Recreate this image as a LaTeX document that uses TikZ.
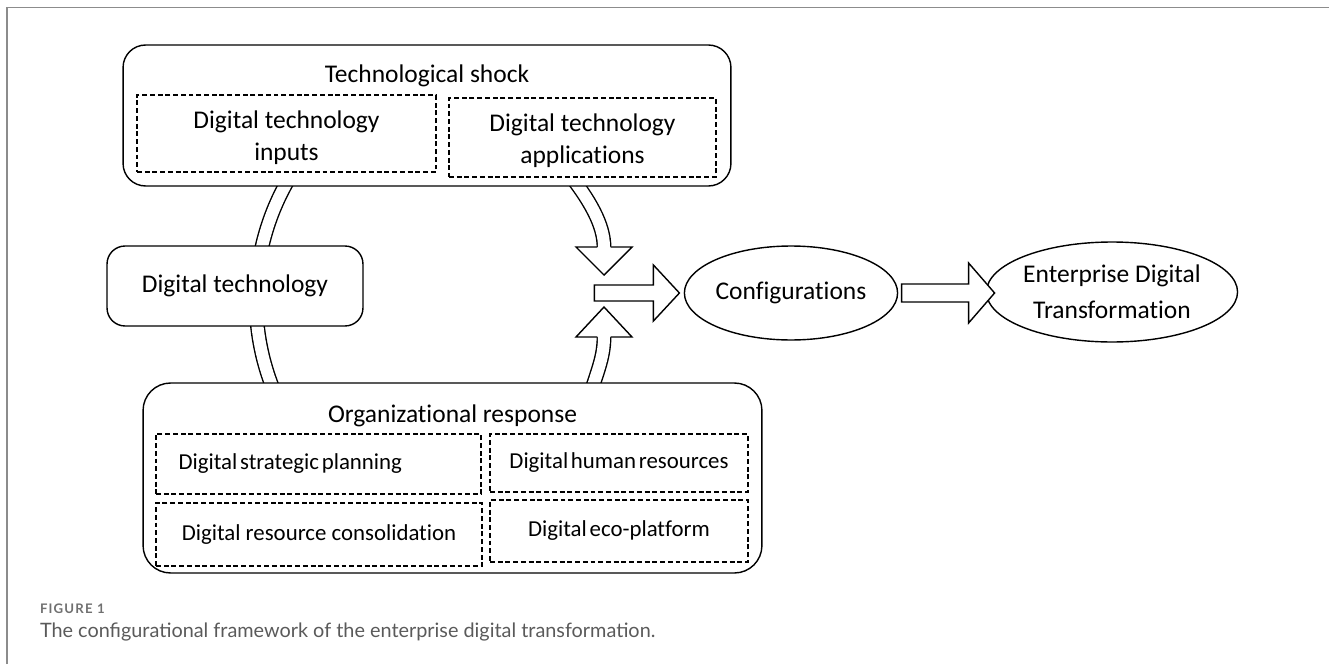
\documentclass[tikz,border=0pt]{standalone}
\usepackage{fontspec}
\setmainfont[Ligatures={NoCommon,NoRequired,NoContextual},Contextuals=NoAlternate]{Carlito}
\newfontfamily\captionfont{Lato}
\usetikzlibrary{shapes.geometric,calc}
\definecolor{framegray}{HTML}{8C8C8C}
\definecolor{capgray}{HTML}{5A5A5A}
\definecolor{figgray}{HTML}{707070}
\newcommand{\tightwords}{\spaceskip=0.12em plus 0.05em\relax}
\begin{document}
\begin{tikzpicture}[x=0.02cm,y=0.02cm,
  every node/.style={inner sep=0pt, outer sep=0pt},
  mainbox/.style={draw, fill=white, line width=0.8pt, rounded corners=0.45cm},
  dashbox/.style={draw, fill=white, line width=0.8pt, dash pattern=on 2.8pt off 1.6pt, align=center},
  oval/.style={draw, fill=white, ellipse, line width=0.8pt, align=center},
  band/.style={line width=0.8pt, double=white, double distance=0.24cm},
  hollow/.style={draw, fill=white, line width=0.8pt, line join=miter},
  lbl/.style={font=\fontsize{14.5}{18}\selectfont, align=center},
  sublbl/.style={font=\fontsize{13}{16}\selectfont}
]
\useasboundingbox (0,0) rectangle (1329,664);
% page frame
\draw[framegray, line width=1.1pt] (7,0) -- (7,656.5) -- (1329,656.5);

% ring of links between the three blocks (drawn first, boxes cover the ends)
\draw[band] (496,364) ++(150:4.8cm) arc[start angle=150, end angle=205, radius=4.8cm];
\draw[band] (566,494) .. controls (590,464) and (604,439) .. (604,417);
\draw[band] (588,262) .. controls (596,290) and (604,305) .. (604,327);
% heads of the two curved links
\draw[hollow] (597.3,417) -- (576,417) -- (604,389) -- (632,417) -- (610.7,417);
\draw[hollow] (597.3,327) -- (576,327) -- (604,357) -- (632,327) -- (610.7,327);

% technological shock
\node[mainbox, minimum width=12.16cm, minimum height=2.82cm] (shock) at (427,548.5) {};
\node[lbl] (shockt) at (427,588) {Technological shock};
\node[dashbox, minimum width=5.98cm, minimum height=1.54cm, lbl] (inputs) at (286.5,530.5) {};
\node[lbl] (inputst) at (286.5,526.5) {Digital technology\\inputs};
\node[dashbox, minimum width=5.34cm, minimum height=1.58cm, lbl] (apps) at (582.5,526.5) {};
\node[lbl] (appst) at (582.5,523.5) {Digital technology\\applications};

% digital technology
\node[mainbox, rounded corners=0.36cm, minimum width=5.12cm, minimum height=1.6cm, lbl] (dtech) at (235,378) {Digital technology};

% organizational response
\node[mainbox, rounded corners=0.55cm, minimum width=12.38cm, minimum height=3.8cm] (resp) at (452.5,186) {};
\node[lbl] (respt) at (452.5,248) {Organizational response};
\node[dashbox, minimum width=6.5cm, minimum height=1.2cm, sublbl, text width=5.6cm, align=left] (plan) at (318.5,200) {\tightwords Digital strategic planning};
\node[dashbox, minimum width=5.16cm, minimum height=1.16cm, sublbl] (hr) at (619,201) {\tightwords Digital human resources};
\node[dashbox, minimum width=6.52cm, minimum height=1.26cm, sublbl] (cons) at (319,129.5) {Digital resource consolidation};
\node[dashbox, minimum width=5.16cm, minimum height=1.24cm, sublbl] (eco) at (619,133) {\tightwords Digital eco-platform};

% outcome chain
\node[oval, minimum width=4.2cm, minimum height=1.88cm, lbl] (cfg) at (791,371) {Configurations};
\node[oval, minimum width=4.8cm, minimum height=2.0cm, font=\fontsize{14.5}{20.5}\selectfont] (edt) at (1112,372) {Enterprise Digital\\Transformation};

\coordinate (a1) at ($(cfg.west)+(-90,0)$);
\draw[hollow] (a1) ++(0,8) -- ++(59,0) -- ++(0,20) -- ++(26,-28) -- ++(-26,-28) -- ++(0,20) -- ++(-59,0) -- cycle;
\coordinate (a2) at ($(cfg.east)+(4,0)$);
\draw[hollow] (a2) ++(0,9) -- ++(67,0) -- ++(0,21) -- ++(26,-30) -- ++(-26,-30) -- ++(0,21) -- ++(-67,0) -- cycle;

% caption
\node[anchor=base west, text=figgray, font=\captionfont\bfseries\fontsize{7.5}{9}\selectfont\addfontfeature{LetterSpace=9}] (fig) at (40,51) {FIGURE 1};
\node[anchor=base west, text=capgray, font=\captionfont\fontsize{11.3}{13}\selectfont] (cap) at (40,27) {The configurational framework of the enterprise digital transformation.};
\end{tikzpicture}
\end{document}
